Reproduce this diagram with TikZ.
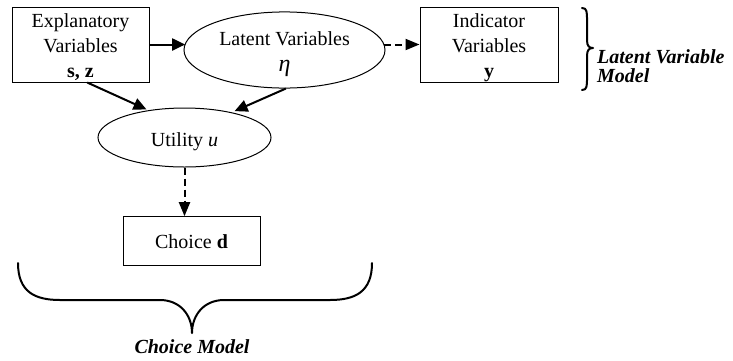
\documentclass[tikz,border=0pt]{standalone}
\usepackage{fontspec}
\setmainfont{Liberation Serif}
\usetikzlibrary{arrows.meta,shapes.geometric}
\tikzset{
  boxnode/.style={draw, line width=1pt, inner sep=0pt, align=center,
    font=\fontsize{20}{25}\selectfont},
  ovalnode/.style={ellipse, draw, line width=1pt, inner sep=0pt, align=center,
    font=\fontsize{20}{26}\selectfont},
  labelnode/.style={inner sep=0pt, font=\fontsize{20}{19}\selectfont\bfseries\itshape},
  arr/.style={line width=2pt, -{Triangle[length=13pt,width=12pt]}},
  darr/.style={line width=2pt, -{Triangle[length=14pt,width=11pt]}, dash pattern=on 7pt off 4pt},
  bracepath/.style={line width=2pt, line cap=round, line join=round}
}
\begin{document}
\begin{tikzpicture}[x=1pt,y=-1pt]
\useasboundingbox (0,0) rectangle (733,360);
% nodes
\node[boxnode, minimum width=137pt, minimum height=75pt] (expl) at (80.5,44.5)
  {\rule{0pt}{20pt}Explanatory\\Variables\\\textbf{s, z}};
\node[ovalnode, minimum width=201pt, minimum height=62pt] (lat) at (284.5,50)
  {\rule{0pt}{22.7pt}Latent Variables\\{\fontsize{24}{26}\selectfont\itshape η}};
\node[boxnode, minimum width=138pt, minimum height=75pt] (ind) at (489,44.5)
  {\rule{0pt}{20pt}Indicator\\Variables\\\textbf{y}};
\node[ovalnode, minimum width=173pt, minimum height=59pt] (util) at (184.5,137.5)
  {\rule{0pt}{22pt}Utility \textit{u}};
\node[boxnode, minimum width=137pt, minimum height=49pt] (choice) at (191.5,241.2)
  {Choice \textbf{d}};
\node[labelnode, anchor=west, align=left] (lvm) at (597,66)
  {Latent Variable\\Model};
\node[labelnode] (cm) at (192,347) {Choice Model};
% connectors
\draw[arr] (expl.east) -- (expl.east -| lat.176);
\draw[darr] (ind.west -| lat.4) -- (ind.west);
\draw[arr, shorten >=2pt] (expl.-80) -- (util.143);
\draw[arr, shorten >=3pt] (lat.-88) -- (util.28);
\draw[darr] (util.south) -- (util.south |- choice.north);
% right brace
\draw[bracepath] (582,8) .. controls (587,8) and (587,12) .. (587,20)
  -- (587,40) .. controls (587,46) and (589,48) .. (593,48)
  .. controls (589,48) and (587,50) .. (587,56)
  -- (587,78) .. controls (587,86) and (587,90) .. (582,90);
% bottom brace
\draw[bracepath] (18,263) .. controls (18,292) and (35,300) .. (60,300)
  -- (160,300) .. controls (180,300) and (192,315) .. (192,333)
  .. controls (192,315) and (204,300) .. (224,300)
  -- (330,300) .. controls (355,300) and (372,292) .. (372,263);
\end{tikzpicture}
\end{document}
